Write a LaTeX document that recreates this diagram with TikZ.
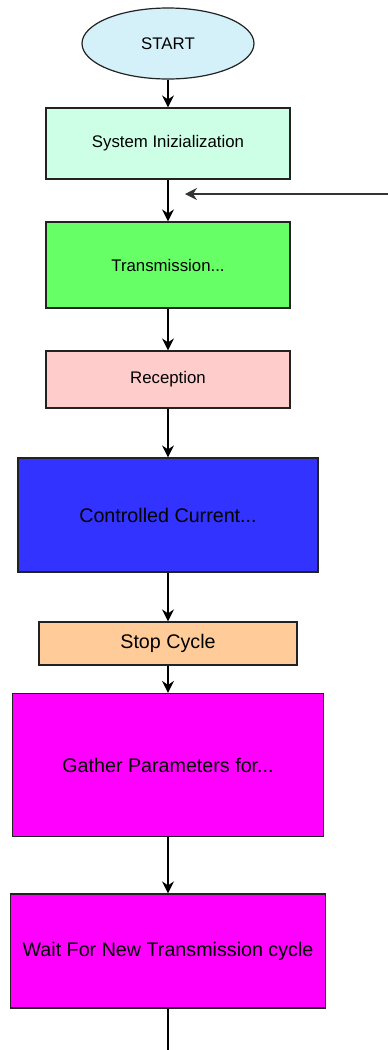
\documentclass[tikz,border=0pt]{standalone}
\usepackage{fontspec}
\setmainfont{Liberation Sans}
\usetikzlibrary{shapes.geometric,arrows.meta}
\definecolor{cstart}{HTML}{D4F1F9}
\definecolor{cinit}{HTML}{CCFFE6}
\definecolor{ctrans}{HTML}{66FF66}
\definecolor{crecep}{HTML}{FFCCCC}
\definecolor{cctrl}{HTML}{3333FF}
\definecolor{cstop}{HTML}{FFCC99}
\definecolor{cmag}{HTML}{FF00FF}
\definecolor{cline}{HTML}{222222}
\tikzset{
  box/.style={draw=cline, line width=1.2pt, rectangle, inner sep=0pt, align=center},
  smalltxt/.style={font=\fontsize{16.8}{20}\selectfont},
  bigtxt/.style={font=\fontsize{19.7}{23}\selectfont},
  flow/.style={draw=black, line width=1.6pt, -{Stealth[length=12pt,width=12pt,inset=4pt]}},
  flowthin/.style={draw=black, line width=1.3pt, -{Stealth[length=12pt,width=12pt,inset=4pt]}},
}
\begin{document}
\begin{tikzpicture}[x=1pt,y=1pt]
\useasboundingbox (0,0) rectangle (388,-1050);
\node[box, ellipse, fill=cstart, minimum width=172pt, minimum height=71pt, smalltxt] (start) at (168,-43.5) {START};
\node[box, fill=cinit, minimum width=244pt, minimum height=71pt, smalltxt] (init) at (168,-143.5) {System Inizialization};
\node[box, fill=ctrans, minimum width=244pt, minimum height=86pt, smalltxt] (trans) at (168,-265) {Transmission...};
\node[box, fill=crecep, minimum width=244pt, minimum height=57pt, smalltxt] (recep) at (168,-379.5) {Reception};
\node[box, fill=cctrl, minimum width=300pt, minimum height=114pt, bigtxt] (ctrl) at (168,-515) {Controlled Current...};
\node[box, fill=cstop, minimum width=258pt, minimum height=43pt, bigtxt] (stop) at (168,-643.5) {Stop Cycle};
\node[box, fill=cmag, minimum width=311pt, minimum height=143pt, bigtxt] (gather) at (168,-765) {Gather Parameters for...};
\node[box, fill=cmag, minimum width=315pt, minimum height=114pt, bigtxt] (wait) at (168,-951) {Wait For New Transmission cycle};
\coordinate (bottom) at (168,-1050);
\coordinate (feedin) at (388,-194);
\coordinate (feedtip) at (185,-194);

\draw[flow] (start) -- (init);
\draw[flow] (init) -- (trans);
\draw[flow] (trans) -- (recep);
\draw[flowthin] (recep) -- (ctrl);
\draw[flowthin] (ctrl) -- (stop);
\draw[flowthin] (stop) -- (gather);
\draw[flowthin] (gather) -- (wait);
\draw[draw=black, line width=1.3pt] (wait) -- (bottom);
\draw[draw=black!80, line width=1.3pt, -{Stealth[length=12pt,width=12pt,inset=4pt]}] (feedin) -- (feedtip);
\end{tikzpicture}
\end{document}
